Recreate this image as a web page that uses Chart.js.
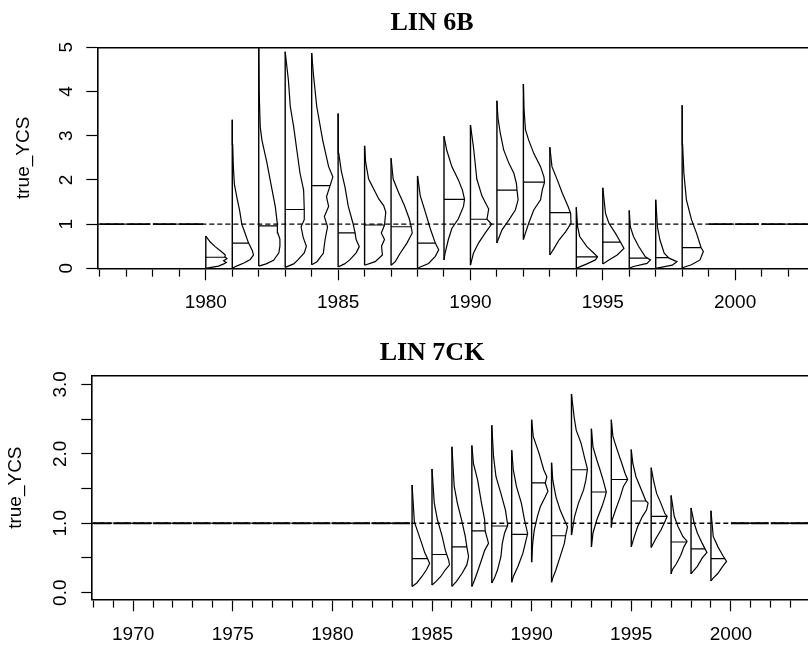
<!DOCTYPE html>
<html>
<head>
<meta charset="utf-8">
<script src="https://cdn.jsdelivr.net/npm/chart.js@4.4.0/dist/chart.umd.min.js"></script>
<style>
html, body { margin: 0; padding: 0; background: #fff; overflow: hidden; }
#wrap { position: relative; width: 808px; height: 646px; overflow: hidden; background: #fff; }
canvas { position: absolute; left: 0; }
#c1 { top: 0; }
#c2 { top: 323px; }
</style>
</head>
<body>
<div id="wrap">
  <canvas id="c1" width="864" height="323"></canvas>
  <canvas id="c2" width="864" height="323"></canvas>
</div>
<script>
// ---------- LIN 6B ----------
const years6B = [1980, 1981, 1982, 1983, 1984, 1985, 1986, 1987, 1988, 1989, 1990, 1991, 1992, 1993, 1994, 1995, 1996, 1997, 1998];
const lo6B  = [0.0, 0.0, 0.05, 0.02, 0.08, 0.03, 0.07, 0.07, 0.0, 0.19, 0.07, 0.57, 0.65, 0.30, 0.0, 0.10, 0.0, 0.0, 0.0];
const hi6B  = [0.73, 3.36, 5.0, 4.9, 4.87, 3.5, 2.77, 2.49, 2.09, 2.99, 3.24, 3.79, 4.17, 2.74, 1.38, 1.82, 1.31, 1.55, 3.69];
const med6B = [0.25, 0.57, 0.96, 1.33, 1.87, 0.8, 0.98, 0.94, 0.57, 1.56, 1.11, 1.77, 1.95, 1.26, 0.26, 0.59, 0.23, 0.24, 0.47];
// density outline per year: [true_YCS value, relative width]
const dens6B = [
  [[0.02,0.25],[0.05,0.6],[0.1,0.85],[0.13,0.97],[0.17,0.84],[0.22,1.0],[0.26,0.9],[0.3,0.92],[0.37,0.76],[0.49,0.44],[0.6,0.2]],
  [[0.05,0.2],[0.12,0.55],[0.2,0.85],[0.3,1.0],[0.4,0.95],[0.57,0.77],[0.8,0.6],[1.0,0.45],[1.3,0.35],[1.6,0.22],[1.9,0.1],[2.3,0.05],[2.8,0.02]],
  [[0.1,0.35],[0.18,0.7],[0.35,0.95],[0.5,1.0],[0.66,1.0],[0.8,0.9],[1.0,0.88],[1.4,0.78],[1.85,0.6],[2.4,0.38],[2.9,0.15],[3.2,0.07],[4.0,0.02]],
  [[0.1,0.4],[0.19,0.6],[0.35,0.9],[0.5,1.0],[0.7,0.85],[0.94,0.75],[1.1,0.9],[1.33,0.9],[1.77,0.87],[2.15,0.7],[2.67,0.55],[3.2,0.4],[3.66,0.24],[4.26,0.15]],
  [[0.15,0.25],[0.34,0.55],[0.64,0.63],[0.94,0.75],[1.17,0.6],[1.4,0.8],[1.62,0.7],[1.87,0.87],[2.07,1.0],[2.3,0.8],[2.9,0.52],[3.66,0.24],[4.4,0.08]],
  [[0.1,0.3],[0.19,0.55],[0.35,0.85],[0.49,1.0],[0.65,0.85],[0.8,0.8],[1.02,0.7],[1.4,0.48],[1.85,0.32],[2.2,0.15],[2.6,0.03]],
  [[0.15,0.5],[0.3,0.84],[0.5,0.8],[0.65,0.94],[0.8,0.79],[0.98,0.94],[1.27,1.0],[1.42,0.9],[1.57,0.67],[2.02,0.19],[2.4,0.05]],
  [[0.15,0.2],[0.34,0.43],[0.57,0.75],[0.8,1.0],[0.94,0.95],[1.12,0.86],[1.42,0.63],[1.72,0.35],[2.02,0.1]],
  [[0.03,0.13],[0.11,0.52],[0.27,0.84],[0.42,1.0],[0.57,0.84],[0.9,0.6],[1.27,0.37],[1.64,0.13]],
  [[0.34,0.05],[0.64,0.2],[0.9,0.37],[1.12,0.68],[1.4,0.92],[1.56,0.97],[1.77,0.87],[2.0,0.68],[2.3,0.37],[2.67,0.13]],
  [[0.34,0.14],[0.57,0.38],[0.8,0.7],[1.0,1.0],[1.11,0.78],[1.34,0.86],[1.64,0.54],[2.02,0.3],[2.75,0.14]],
  [[0.64,0.05],[0.87,0.24],[1.09,0.56],[1.32,0.87],[1.55,1.0],[1.77,0.95],[1.92,0.92],[2.15,0.8],[2.38,0.56],[2.68,0.32],[3.05,0.16],[3.4,0.05]],
  [[0.8,0.1],[1.02,0.25],[1.32,0.49],[1.55,0.81],[1.77,0.89],[1.95,1.0],[2.07,0.97],[2.3,0.81],[2.6,0.49],[2.9,0.25],[3.13,0.1],[3.6,0.03]],
  [[0.45,0.2],[0.64,0.43],[0.83,0.75],[1.02,1.0],[1.25,0.98],[1.4,0.86],[1.7,0.59],[2.0,0.35],[2.3,0.1]],
  [[0.02,0.1],[0.1,0.5],[0.19,0.9],[0.26,1.0],[0.34,0.83],[0.49,0.5],[0.72,0.16],[0.94,0.06]],
  [[0.19,0.29],[0.3,0.68],[0.45,1.0],[0.59,0.84],[0.79,0.6],[1.02,0.29],[1.24,0.13]],
  [[0.04,0.2],[0.11,0.84],[0.19,1.0],[0.26,0.76],[0.5,0.44],[0.72,0.2],[0.94,0.05]],
  [[0.02,0.24],[0.07,0.78],[0.15,1.0],[0.23,0.63],[0.34,0.4],[0.64,0.2],[0.94,0.08]],
  [[0.02,0.05],[0.08,0.44],[0.19,0.84],[0.38,1.0],[0.47,0.89],[0.79,0.68],[1.1,0.44],[1.55,0.2],[2.15,0.08],[2.8,0.02]]
];
const flat6B = [1976, 1977, 1978, 1979, 1999, 2000, 2001, 2002, 2003];
const xTicks6B = [1976, 1977, 1978, 1979, 1980, 1981, 1982, 1983, 1984, 1985, 1986, 1987, 1988, 1989, 1990,
                  1991, 1992, 1993, 1994, 1995, 1996, 1997, 1998, 1999, 2000, 2001, 2002, 2003, 2004];
const yTicks6B = [0, 1, 2, 3, 4, 5];

// ---------- LIN 7CK ----------
const years7CK = [1984, 1985, 1986, 1987, 1988, 1989, 1990, 1991, 1992, 1993, 1994, 1995, 1996, 1997, 1998, 1999];
const lo7CK  = [0.09, 0.11, 0.09, 0.09, 0.14, 0.15, 0.44, 0.15, 0.83, 0.66, 0.94, 0.66, 0.65, 0.27, 0.27, 0.17];
const hi7CK  = [1.55, 1.78, 2.1, 2.12, 2.41, 2.05, 2.49, 1.87, 2.86, 2.36, 2.49, 2.06, 1.8, 1.4, 1.22, 1.18];
const med7CK = [0.49, 0.55, 0.66, 0.89, 0.96, 0.84, 1.58, 0.82, 1.77, 1.45, 1.63, 1.32, 1.1, 0.73, 0.63, 0.49];
const dens7CK = [
  [[0.14,0.27],[0.23,0.55],[0.33,0.82],[0.42,1.0],[0.5,0.87],[0.57,0.73],[0.71,0.55],[0.85,0.36],[1.02,0.13]],
  [[0.16,0.22],[0.23,0.49],[0.33,0.76],[0.4,1.0],[0.47,0.95],[0.61,0.76],[0.81,0.58],[1.05,0.31],[1.29,0.13]],
  [[0.16,0.25],[0.28,0.58],[0.4,0.85],[0.52,0.95],[0.66,0.85],[0.81,0.76],[1.05,0.55],[1.29,0.31],[1.53,0.13]],
  [[0.18,0.15],[0.33,0.36],[0.47,0.55],[0.61,0.73],[0.71,0.95],[0.89,0.76],[1.05,0.73],[1.29,0.55],[1.62,0.33],[1.86,0.09]],
  [[0.21,0.15],[0.33,0.33],[0.52,0.52],[0.71,0.6],[0.86,0.73],[0.97,0.91],[1.19,0.78],[1.43,0.52],[1.67,0.24],[1.96,0.1]],
  [[0.23,0.09],[0.38,0.36],[0.57,0.64],[0.76,0.82],[0.85,0.91],[1.05,0.73],[1.29,0.55],[1.53,0.27],[1.77,0.09]],
  [[0.71,0.06],[0.9,0.15],[1.1,0.33],[1.24,0.5],[1.38,0.78],[1.46,0.93],[1.58,0.78],[1.67,0.87],[1.77,0.69],[2.01,0.42],[2.25,0.09]],
  [[0.21,0.07],[0.33,0.25],[0.52,0.49],[0.71,0.73],[0.82,0.8],[0.95,0.91],[1.05,0.73],[1.19,0.49],[1.38,0.25],[1.62,0.07]],
  [[1.1,0.18],[1.29,0.4],[1.48,0.69],[1.62,0.82],[1.78,0.91],[1.96,0.73],[2.15,0.55],[2.34,0.27],[2.53,0.15]],
  [[0.86,0.09],[1.05,0.31],[1.24,0.6],[1.38,0.78],[1.45,0.85],[1.62,0.67],[1.77,0.49],[1.91,0.31],[2.1,0.09]],
  [[1.05,0.05],[1.19,0.24],[1.38,0.51],[1.53,0.69],[1.63,0.93],[1.72,0.78],[1.86,0.6],[2.06,0.33],[2.25,0.09]],
  [[0.81,0.18],[0.95,0.36],[1.1,0.64],[1.19,0.87],[1.29,0.96],[1.33,0.82],[1.48,0.58],[1.67,0.27],[1.86,0.09]],
  [[0.78,0.27],[0.9,0.55],[1.02,0.78],[1.1,0.91],[1.14,0.78],[1.29,0.55],[1.43,0.31],[1.62,0.13]],
  [[0.33,0.07],[0.42,0.31],[0.54,0.55],[0.66,0.73],[0.74,0.91],[0.81,0.67],[0.95,0.4],[1.1,0.18]],
  [[0.3,0.09],[0.38,0.36],[0.5,0.64],[0.58,0.91],[0.62,0.82],[0.71,0.64],[0.86,0.36],[1.0,0.18]],
  [[0.21,0.13],[0.28,0.4],[0.38,0.67],[0.45,0.89],[0.54,0.67],[0.66,0.4],[0.81,0.13]]
];
const flat7CK = [1968, 1969, 1970, 1971, 1972, 1973, 1974, 1975, 1976, 1977, 1978, 1979, 1980, 1981, 1982, 1983, 2000, 2001, 2002, 2003, 2004];
const xTicks7CK = [];
for (let y = 1968; y <= 2005; y++) xTicks7CK.push(y);
const yTicks7CK = [0, 0.5, 1, 1.5, 2, 2.5, 3];

const SANS = "'Liberation Sans', Arial, Helvetica, sans-serif";
const SERIF = "'Liberation Serif', 'Times New Roman', serif";

// width of the outline at a given value (where the median bar meets the curve)
function widthAt(pts, v) {
  for (let k = 1; k < pts.length; k++) {
    const a = pts[k - 1], b = pts[k];
    if (v >= a[0] && v <= b[0]) {
      return b[0] === a[0] ? b[1] : a[1] + (b[1] - a[1]) * (v - a[0]) / (b[0] - a[0]);
    }
  }
  return 0;
}

function violinSets(years, lo, hi, med, dens, flat, W, flatLen, xMin, xMax) {
  const curve = [], stems = [], meds = [], flats = [];
  years.forEach((yr, i) => {
    const pts = [[lo[i], 0]].concat(dens[i], [[hi[i], 0]]);
    pts.forEach(p => curve.push({x: yr + p[1] * W, y: p[0]}));
    curve.push({x: yr, y: null});
    stems.push({x: yr, y: lo[i]}, {x: yr, y: hi[i]}, {x: yr, y: null});
    meds.push({x: yr, y: med[i]}, {x: yr + widthAt(pts, med[i]) * W, y: med[i]}, {x: yr, y: null});
  });
  flat.forEach(yr => flats.push({x: yr, y: 1}, {x: yr + flatLen, y: 1}, {x: yr, y: null}));
  const line = (data, extra) => Object.assign({
    data, borderColor: '#000', borderWidth: 1.2, pointRadius: 0, tension: 0, spanGaps: false, fill: false
  }, extra || {});
  return [
    line([{x: xMin, y: 1}, {x: xMax, y: 1}], {borderDash: [5, 3], borderWidth: 1.3}),
    line(flats, {borderWidth: 1.8}),
    line(stems, {borderWidth: 1.4}),
    line(curve),
    line(meds)
  ];
}

function panel(id, p) {
  const H = 323;
  return new Chart(document.getElementById(id), {
    type: 'line',
    data: { datasets: violinSets(p.years, p.lo, p.hi, p.med, p.dens, p.flat, p.W, 0.9, p.xMin, p.xMax) },
    options: {
      responsive: false,
      animation: false,
      events: [],
      layout: { padding: 0 },
      plugins: {
        legend: { display: false },
        tooltip: { enabled: false },
        title: {
          display: true, text: p.title, color: '#000',
          font: { family: SERIF, size: 26, weight: 'bold' },
          padding: { top: p.titleTop, bottom: p.titleBottom }
        }
      },
      scales: {
        x: {
          type: 'linear', position: 'bottom', min: p.xMin, max: p.xMax,
          afterBuildTicks: s => { s.ticks = p.xTicks.map(v => ({value: v})); },
          afterFit: s => { s.height = H - p.bottom; },
          grid: {
            display: true, drawOnChartArea: false, drawTicks: true, tickLength: 12,
            tickColor: '#000', tickWidth: 1.2,
            tickBorderDash: ctx => (ctx.tick && ctx.tick.value % 5 === 0) ? [] : [7, 30]
          },
          border: { display: true, color: '#000', width: 1.6 },
          ticks: {
            autoSkip: false, minRotation: 0, maxRotation: 0, padding: p.xPad, color: '#000',
            font: { family: SANS, size: 19 },
            callback: v => (v % 5 === 0 ? String(v) : '')
          }
        },
        xTop: {
          type: 'linear', position: 'top', min: p.xMin, max: p.xMax,
          grid: { display: false }, ticks: { display: false },
          border: { display: true, color: '#000', width: 1.6 },
          afterFit: s => { s.height = 0; }
        },
        y: {
          type: 'linear', position: 'left', min: p.yMin, max: p.yMax,
          afterBuildTicks: s => { s.ticks = p.yTicks.map(v => ({value: v})); },
          afterFit: s => { s.width = p.left; },
          grid: { display: true, drawOnChartArea: false, drawTicks: true, tickLength: p.yTick, tickColor: '#000', tickWidth: 1.2 },
          border: { display: true, color: '#000', width: 1.6 },
          ticks: {
            minRotation: 90, maxRotation: 90, crossAlign: 'center', padding: p.yPad, color: '#000',
            font: { family: SANS, size: 19 },
            callback: p.yLabel
          },
          title: {
            display: true, text: 'true_YCS', color: '#000',
            font: { family: SANS, size: 19 },
            padding: { top: p.yTitlePad, bottom: 0 }
          }
        }
      }
    }
  });
}

panel('c1', {
  title: 'LIN 6B', titleTop: 8.1, titleBottom: 8.0,
  years: years6B, lo: lo6B, hi: hi6B, med: med6B, dens: dens6B, flat: flat6B, W: 0.8,
  xMin: 1975.9, xMax: 2004.87, xTicks: xTicks6B, xPad: 11.1,
  yMin: 0, yMax: 5, yTicks: yTicks6B, yLabel: v => String(v), yTick: 11, yPad: 14.3,
  left: 97.3, bottom: 268.3, yTitlePad: 12.1
});

panel('c2', {
  title: 'LIN 7CK', titleTop: 14.9, titleBottom: 6.9,
  years: years7CK, lo: lo7CK, hi: hi7CK, med: med7CK, dens: dens7CK, flat: flat7CK, W: 0.88,
  xMin: 1967.9, xMax: 2005.08, xTicks: xTicks7CK, xPad: 12.3,
  yMin: -0.095, yMax: 3.12, yTicks: yTicks7CK, yLabel: v => (v % 1 === 0 ? v.toFixed(1) : ''), yTick: 10, yPad: 7.3,
  left: 91.3, bottom: 276.3, yTitlePad: 4.1
});
</script>
</body>
</html>
